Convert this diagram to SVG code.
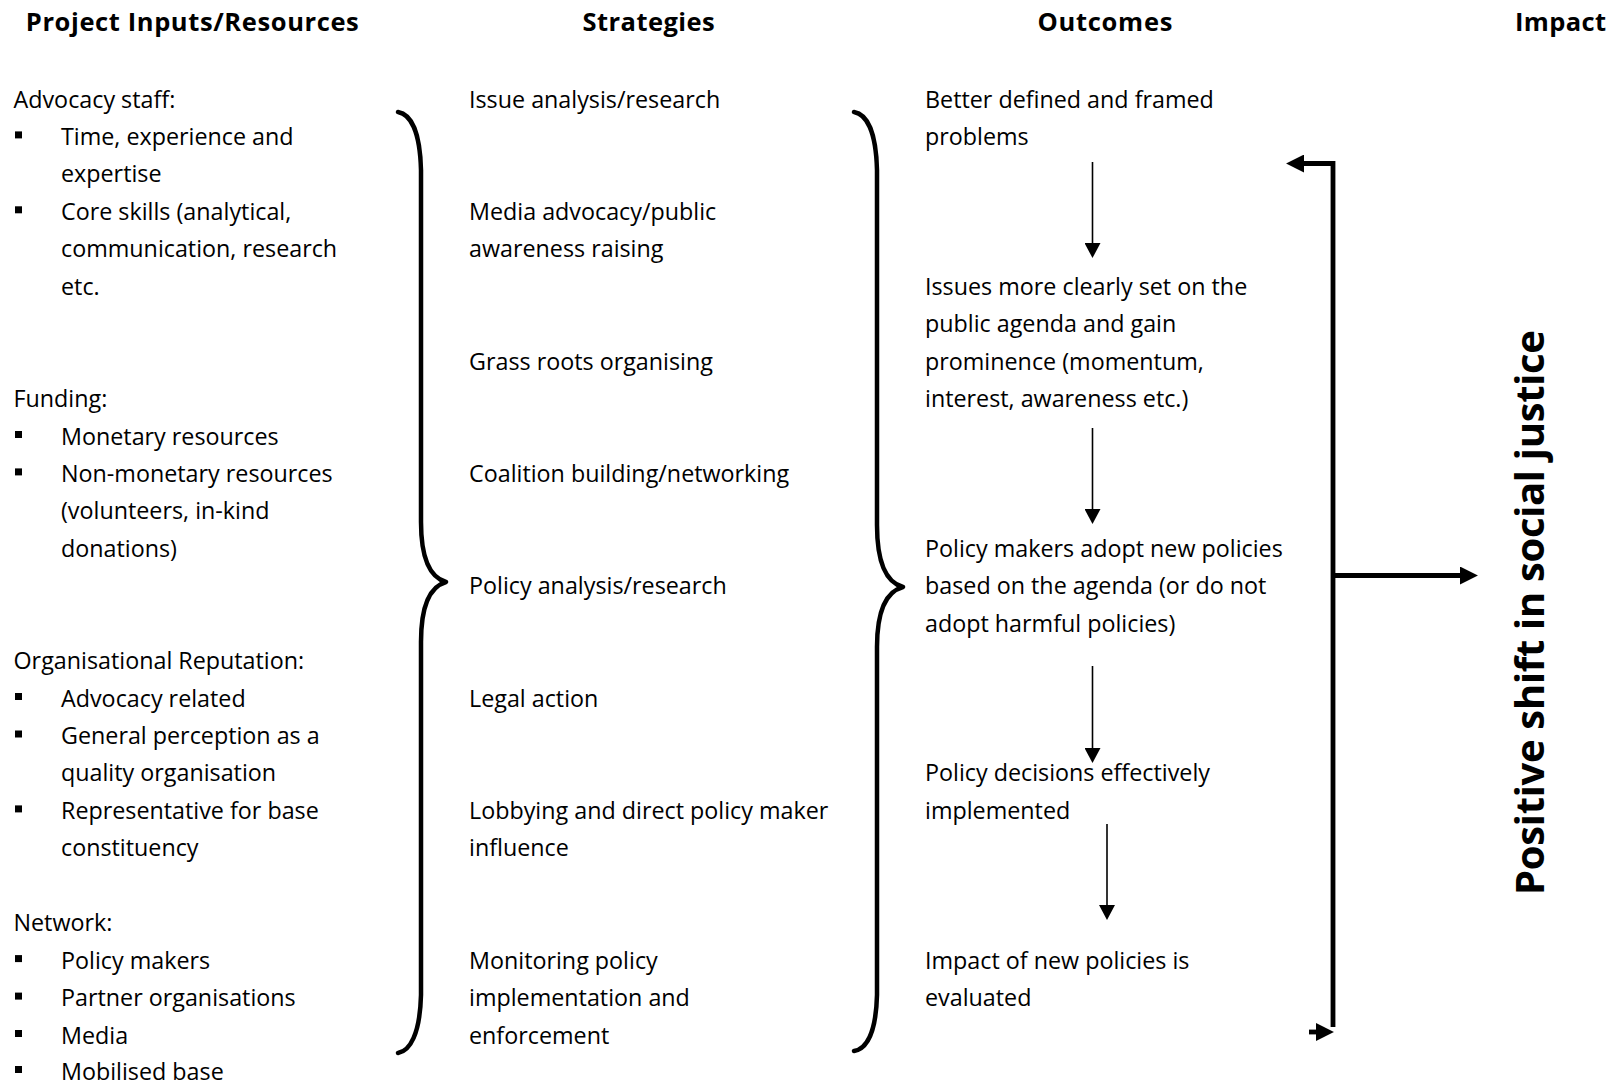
<svg xmlns="http://www.w3.org/2000/svg" width="1617" height="1085" viewBox="0 0 1617 1085">
<style>
text{font-family:"Open Sans","Liberation Sans",sans-serif;fill:#000}
.t{font-size:23.3px}
.h{font-size:25.5px;font-weight:bold}
.v{font-size:40px;font-weight:bold}
.bul{fill:#000}
.brace{fill:none;stroke:#000;stroke-width:4.5;stroke-linecap:round;stroke-linejoin:round}
.thin{fill:none;stroke:#000;stroke-width:1.6}
.thick{fill:none;stroke:#000;stroke-width:4.8;stroke-linejoin:miter}
</style>
<defs>
<marker id="ah" markerUnits="userSpaceOnUse" markerWidth="16" markerHeight="16" refX="1" refY="8" orient="auto" viewBox="0 0 15 16"><path d="M0,0 L15,8 L0,16 z" fill="#000"/></marker>
<marker id="ahb" markerUnits="userSpaceOnUse" markerWidth="18" markerHeight="18" refX="1" refY="8.5" orient="auto" viewBox="0 0 17 17"><path d="M0,0 L17,8.5 L0,17 z" fill="#000"/></marker>
</defs>
<rect width="1617" height="1085" fill="#fff"/>

<g id="headers">
<text class="h" x="25.8" y="31" textLength="333">Project Inputs/Resources</text>
<text class="h" x="582.6" y="31" textLength="132">Strategies</text>
<text class="h" x="1037.4" y="31" textLength="135">Outcomes</text>
<text class="h" x="1515" y="31" textLength="91">Impact</text>
</g>

<g id="input-staff">
<text class="t" x="13.5" y="107.5">Advocacy staff:</text>
<rect class="bul" x="15" y="131.4" width="7" height="7"/>
<text class="t" x="61" y="144.9">Time, experience and</text>
<text class="t" x="61" y="182.4">expertise</text>
<rect class="bul" x="15" y="206.3" width="7" height="7"/>
<text class="t" x="61" y="219.8">Core skills (analytical,</text>
<text class="t" x="61" y="257.3">communication, research</text>
<text class="t" x="61" y="294.7">etc.</text>
</g>

<g id="input-funding">
<text class="t" x="13.5" y="407">Funding:</text>
<rect class="bul" x="15" y="431" width="7" height="7"/>
<text class="t" x="61" y="444.5">Monetary resources</text>
<rect class="bul" x="15" y="468.4" width="7" height="7"/>
<text class="t" x="61" y="481.9">Non-monetary resources</text>
<text class="t" x="61" y="519.3">(volunteers, in-kind</text>
<text class="t" x="61" y="556.8">donations)</text>
</g>

<g id="input-reputation">
<text class="t" x="13.5" y="669.1">Organisational Reputation:</text>
<rect class="bul" x="15" y="693" width="7" height="7"/>
<text class="t" x="61" y="706.5">Advocacy related</text>
<rect class="bul" x="15" y="730.5" width="7" height="7"/>
<text class="t" x="61" y="744">General perception as a</text>
<text class="t" x="61" y="781.4">quality organisation</text>
<rect class="bul" x="15" y="805.4" width="7" height="7"/>
<text class="t" x="61" y="818.9">Representative for base</text>
<text class="t" x="61" y="856.3">constituency</text>
</g>

<g id="input-network">
<text class="t" x="13.5" y="931.2">Network:</text>
<rect class="bul" x="15" y="955.1" width="7" height="7"/>
<text class="t" x="61" y="968.6">Policy makers</text>
<rect class="bul" x="15" y="992.6" width="7" height="7"/>
<text class="t" x="61" y="1006.1">Partner organisations</text>
<rect class="bul" x="15" y="1030" width="7" height="7"/>
<text class="t" x="61" y="1043.5">Media</text>
<rect class="bul" x="15" y="1066" width="7" height="7"/>
<text class="t" x="61" y="1079.5">Mobilised base</text>
</g>

<g id="strategies">
<text class="t" x="469" y="107.5">Issue analysis/research</text>
<text class="t" x="469" y="219.8">Media advocacy/public</text>
<text class="t" x="469" y="257.3">awareness raising</text>
<text class="t" x="469" y="369.6">Grass roots organising</text>
<text class="t" x="469" y="481.9">Coalition building/networking</text>
<text class="t" x="469" y="594.2">Policy analysis/research</text>
<text class="t" x="469" y="706.5">Legal action</text>
<text class="t" x="469" y="818.9">Lobbying and direct policy maker</text>
<text class="t" x="469" y="856.3">influence</text>
<text class="t" x="469" y="968.6">Monitoring policy</text>
<text class="t" x="469" y="1006.1">implementation and</text>
<text class="t" x="469" y="1043.5">enforcement</text>
</g>

<g id="outcome-1">
<text class="t" x="925" y="107.5">Better defined and framed</text>
<text class="t" x="925" y="144.9">problems</text>
</g>
<g id="outcome-2">
<text class="t" x="925" y="294.7">Issues more clearly set on the</text>
<text class="t" x="925" y="332.2">public agenda and gain</text>
<text class="t" x="925" y="369.6">prominence (momentum,</text>
<text class="t" x="925" y="407">interest, awareness etc.)</text>
</g>
<g id="outcome-3">
<text class="t" x="925" y="556.8">Policy makers adopt new policies</text>
<text class="t" x="925" y="594.2">based on the agenda (or do not</text>
<text class="t" x="925" y="631.7">adopt harmful policies)</text>
</g>
<g id="outcome-4">
<text class="t" x="925" y="781.4">Policy decisions effectively</text>
<text class="t" x="925" y="818.9">implemented</text>
</g>
<g id="outcome-5">
<text class="t" x="925" y="968.6">Impact of new policies is</text>
<text class="t" x="925" y="1006.1">evaluated</text>
</g>

<g id="impact">
<text class="v" transform="translate(1544,612.5) rotate(-90)" text-anchor="middle" textLength="565">Positive shift in social justice</text>
</g>

<g id="connectors">
<path class="brace" d="M398,112 C410,114 420,130 421,170 L421,522 C421,562 432,578 446,582 C432,586 421,602 421,642 L421,995 C420,1034 410,1051 398,1053"/>
<path class="brace" d="M854,112 C866,114 876,130 877,170 L877,525 C877,565 888,583 903,587 C888,591 877,607 877,647 L877,995 C876,1034 866,1049 854,1051"/>
<line class="thin" x1="1092.5" y1="162" x2="1092.5" y2="244" marker-end="url(#ah)"/>
<line class="thin" x1="1092.5" y1="428" x2="1092.5" y2="510" marker-end="url(#ah)"/>
<line class="thin" x1="1092.5" y1="666" x2="1092.5" y2="749" marker-end="url(#ah)"/>
<line class="thin" x1="1107" y1="824" x2="1107" y2="906" marker-end="url(#ah)"/>
<path class="thick" d="M1333,1027 L1333,163.5 L1303,163.5" marker-end="url(#ahb)"/>
<line class="thick" x1="1335" y1="575.5" x2="1461" y2="575.5" marker-end="url(#ahb)"/>
<line class="thick" x1="1309" y1="1032" x2="1317" y2="1032" marker-end="url(#ahb)"/>
</g>
</svg>
